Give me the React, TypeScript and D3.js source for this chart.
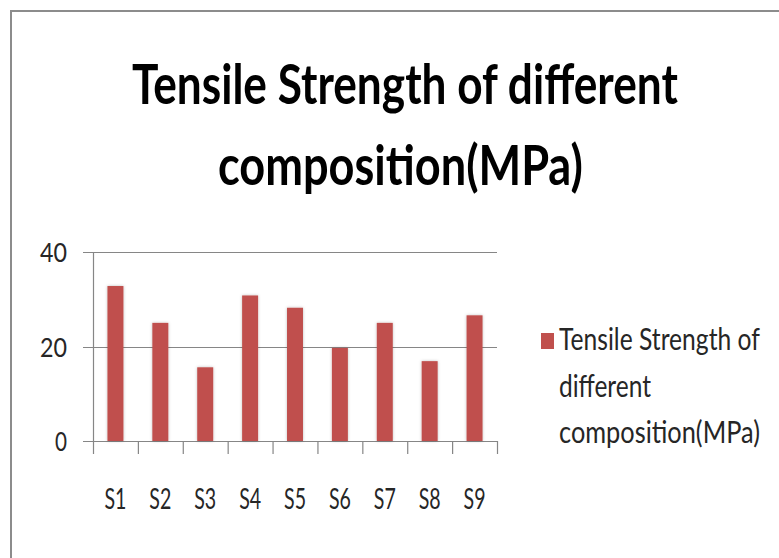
import React, { useEffect, useRef } from "react";
import * as d3 from "d3";

const categories = ["S1", "S2", "S3", "S4", "S5", "S6", "S7", "S8", "S9"];
const tensileStrength = [32.8, 25.0, 15.6, 30.8, 28.2, 19.7, 25.0, 16.9, 26.6];
const yTicks = [0, 20, 40];
const titleLines = ["Tensile Strength of different", "composition(MPa)"];
const legendLines = ["Tensile Strength of", "different", "composition(MPa)"];

// squeeze a text horizontally so it takes the width seen in the picture
const fitWidth = (sel, px, py, target) => {
  sel.each(function (d, i) {
    const node = this as SVGTextElement;
    const natural = node.getComputedTextLength() || 1;
    const sx = target(d, i) / natural;
    d3.select(node)
      .attr("x", 0)
      .attr("y", 0)
      .attr("transform", `translate(${px(d, i)},${py(d, i)}) scale(${sx},1)`);
  });
};

const App = () => {
  const ref = useRef<HTMLDivElement>(null);

  useEffect(() => {
    drawChart();
  }, []);

  const drawChart = () => {
    const width = 779,
      height = 558;
    const font = "Lato, 'Open Sans', sans-serif";
    const barColor = "#C0504D";
    const gridColor = "#868686";

    const svg = d3
      .select(ref.current)
      .html("")
      .append("svg")
      .attr("width", width)
      .attr("height", height)
      .style("position", "absolute")
      .style("left", 0)
      .style("top", 0)
      .style("background", "#fff");

    const defs = svg.append("defs");
    const shadow = defs.append("filter").attr("id", "barShadow").attr("x", "-30%").attr("width", "160%");
    shadow
      .append("feDropShadow")
      .attr("dx", 0)
      .attr("dy", 0)
      .attr("stdDeviation", 1.4)
      .attr("flood-color", "#000")
      .attr("flood-opacity", 0.25);

    // outer frame (cut by the picture's right and bottom edges)
    svg
      .append("path")
      .attr("d", `M11,${height + 2}V11H${width + 2}`)
      .attr("fill", "none")
      .attr("stroke", "#8c8c8c")
      .attr("stroke-width", 2);

    // title
    const titleX = [132, 218];
    const titleW = [546, 365];
    const titleY = [104, 185];
    svg
      .selectAll("text.title")
      .data(titleLines)
      .join("text")
      .attr("class", "title")
      .style("font-family", font)
      .style("font-weight", "bold")
      .style("font-size", "56px")
      .attr("fill", "#000")
      .text((d) => d)
      .call(fitWidth, (d, i) => titleX[i], (d, i) => titleY[i], (d, i) => titleW[i]);

    const x = d3
      .scaleBand()
      .domain(categories)
      .range([93, 497])
      .paddingInner(0.644)
      .paddingOuter(0.322);

    const y = d3.scaleLinear().domain([0, 40]).range([441, 252]);

    // gridlines + y tick marks
    svg
      .selectAll("line.grid")
      .data(yTicks)
      .join("line")
      .attr("class", "grid")
      .attr("x1", 83)
      .attr("x2", 497)
      .attr("y1", (d) => Math.round(y(d)) + 0.5)
      .attr("y2", (d) => Math.round(y(d)) + 0.5)
      .attr("stroke", gridColor)
      .attr("stroke-width", 1.2);

    // y axis line
    svg
      .append("line")
      .attr("x1", 93.5)
      .attr("x2", 93.5)
      .attr("y1", y(40))
      .attr("y2", y(0) + 13)
      .attr("stroke", gridColor)
      .attr("stroke-width", 1.2);

    // category tick marks
    const step = x.step();
    svg
      .selectAll("line.ctick")
      .data(d3.range(1, categories.length + 1))
      .join("line")
      .attr("class", "ctick")
      .attr("x1", (i) => 93 + i * step + 0.5)
      .attr("x2", (i) => 93 + i * step + 0.5)
      .attr("y1", y(0))
      .attr("y2", y(0) + 13)
      .attr("stroke", gridColor)
      .attr("stroke-width", 1.2);

    // bars
    svg
      .selectAll("rect.bar")
      .data(tensileStrength)
      .join("rect")
      .attr("class", "bar")
      .attr("x", (d, i) => x(categories[i]))
      .attr("y", (d) => y(d))
      .attr("width", x.bandwidth())
      .attr("height", (d) => y(0) - y(d))
      .attr("fill", barColor)
      .attr("filter", "url(#barShadow)");

    // y tick labels
    svg
      .selectAll("text.ytick")
      .data(yTicks)
      .join("text")
      .attr("class", "ytick")
      .attr("text-anchor", "end")
      .style("font-family", font)
      .style("font-size", "27px")
      .attr("fill", "#262626")
      .text((d) => d)
      .call(fitWidth, () => 67, (d) => y(d) + 10, (d) => (d === 0 ? 12 : 27));

    // x labels
    svg
      .selectAll("text.xtick")
      .data(categories)
      .join("text")
      .attr("class", "xtick")
      .attr("text-anchor", "middle")
      .style("font-family", font)
      .style("font-size", "29px")
      .attr("fill", "#262626")
      .text((d) => d)
      .call(fitWidth, (d) => x(d) + x.bandwidth() / 2, () => 509, () => 22);

    // legend
    svg
      .append("rect")
      .attr("x", 541)
      .attr("y", 333)
      .attr("width", 13)
      .attr("height", 16)
      .attr("fill", barColor);

    const legendW = [201, 92, 201];
    svg
      .selectAll("text.legend")
      .data(legendLines)
      .join("text")
      .attr("class", "legend")
      .style("font-family", font)
      .style("font-size", "30px")
      .attr("fill", "#262626")
      .text((d) => d)
      .call(fitWidth, () => 559, (d, i) => 350 + i * 46.5, (d, i) => legendW[i]);
  };

  return <div ref={ref}></div>;
};

export default App;
